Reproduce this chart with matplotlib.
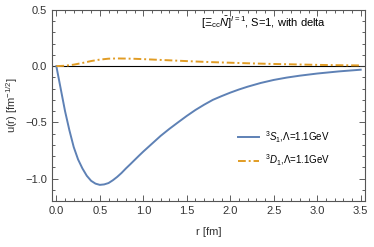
import numpy as np
import matplotlib.pyplot as plt
from matplotlib.ticker import MultipleLocator

plt.rcParams['font.family'] = ['Liberation Sans', 'DejaVu Sans']
plt.rcParams['mathtext.fontset'] = 'custom'
plt.rcParams['mathtext.rm'] = 'Liberation Sans'
plt.rcParams['mathtext.it'] = 'Liberation Sans:italic'

# 3S1 wave function
r_s = [0.0, 0.05, 0.1, 0.15, 0.2, 0.25, 0.3, 0.35, 0.4, 0.45, 0.5, 0.55, 0.6,
       0.65, 0.7, 0.75, 0.8, 0.85, 0.9, 0.95, 1.0, 1.1, 1.2, 1.3, 1.4, 1.5,
       1.6, 1.7, 1.8, 1.9, 2.0, 2.1, 2.2, 2.35, 2.5, 2.65, 2.8, 3.0, 3.25, 3.5]
u_s = [0.0, -0.20, -0.40, -0.57, -0.72, -0.83, -0.91, -0.975, -1.02, -1.045,
       -1.056, -1.052, -1.04, -1.015, -0.985, -0.95, -0.91, -0.873, -0.835,
       -0.797, -0.76, -0.69, -0.62, -0.558, -0.50, -0.443, -0.39, -0.343,
       -0.30, -0.267, -0.236, -0.208, -0.183, -0.150, -0.123, -0.102, -0.085,
       -0.066, -0.047, -0.032]

# 3D1 wave function
r_d = [0.0, 0.1, 0.2, 0.3, 0.4, 0.5, 0.6, 0.7, 0.8, 0.9, 1.0, 1.2, 1.4, 1.6,
       1.8, 2.0, 2.25, 2.5, 2.75, 3.0, 3.25, 3.5]
u_d = [0.0, 0.003, 0.013, 0.028, 0.045, 0.058, 0.066, 0.068, 0.067, 0.065,
       0.062, 0.055, 0.048, 0.041, 0.035, 0.030, 0.024, 0.019, 0.015, 0.011,
       0.008, 0.006]

labels = [r"$^3S_1$,Λ=1.1GeV", r"$^3D_1$,Λ=1.1GeV"]

fig = plt.figure(figsize=(3.74, 2.47), dpi=100)
ax = fig.add_axes([0.139, 0.186, 0.837, 0.774])

ax.axhline(0, color='black', lw=0.8, zorder=1)
ax.plot(r_s, u_s, color='#5e81b5', lw=1.4, label=labels[0])
ax.plot(r_d, u_d, color='#e19c24', lw=1.4, ls=(0, (4, 1.5, 1, 1.5)),
        label=labels[1])

ax.set_xlim(-0.05, 3.55)
ax.set_ylim(-1.2, 0.5)
ax.xaxis.set_major_locator(MultipleLocator(0.5))
ax.xaxis.set_minor_locator(MultipleLocator(0.1))
ax.yaxis.set_major_locator(MultipleLocator(0.5))
ax.yaxis.set_minor_locator(MultipleLocator(0.1))
ax.xaxis.set_major_formatter(lambda v, p: f"{v:.1f}".replace('-', '\u2212'))
ax.yaxis.set_major_formatter(lambda v, p: f"{v:.1f}".replace('-', '\u2212'))

ax.tick_params(which='both', direction='in', top=True, right=True,
               labelsize=8, colors='#444444', labelcolor='#333333', width=0.6)
ax.tick_params(which='major', length=4)
ax.tick_params(which='minor', length=2)
for s in ax.spines.values():
    s.set_color('#555555')
    s.set_linewidth(0.8)

ax.set_xlabel("r [fm]", fontsize=8, color='#333333', labelpad=8)
ax.set_ylabel(r"u(r) [fm$^{-1/2}$]", fontsize=8, color='#333333', labelpad=4)

ax.text(0.476, 0.93, r"$[\Xi_{\mathrm{cc}}\bar{N}]^{I{=}1}$, S=1, with delta",
        transform=ax.transAxes, fontsize=8, va='center', ha='left')

ax.legend(loc='center left', bbox_to_anchor=(0.565, 0.275), frameon=False,
          fontsize=7, handlelength=2.2, labelspacing=0.8, handletextpad=0.6)

fig.savefig("out.png", dpi=100)
